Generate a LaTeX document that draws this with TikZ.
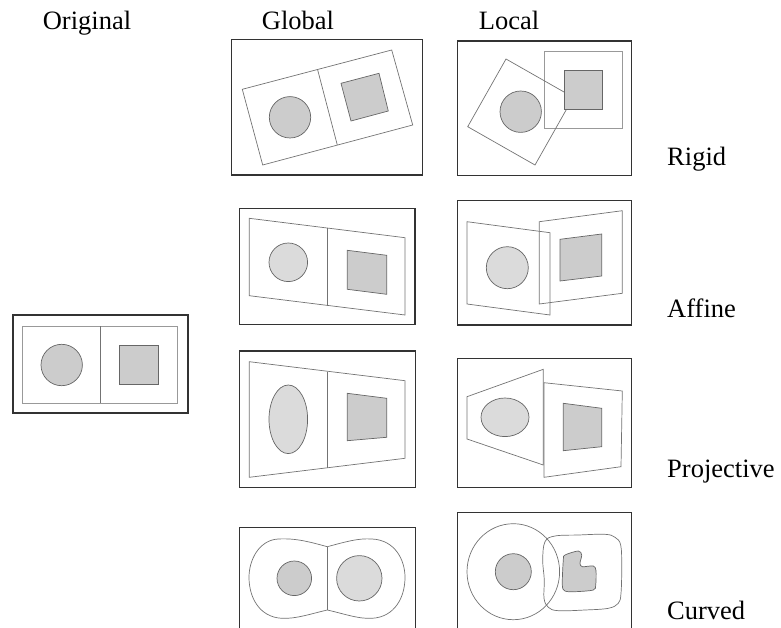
\documentclass[tikz,border=0pt]{standalone}
\usepackage{fontspec}
\setmainfont{Liberation Serif}
\begin{document}
\begin{tikzpicture}[x=1pt,y=-1pt,
  frame/.style={draw=black!80,line width=1.4pt},
  sheet/.style={draw=black!55,line width=0.7pt},
  lightsheet/.style={draw=black!40,line width=0.8pt},
  darkfill/.style={draw=black!60,line width=0.7pt,fill=black!20},
  lightfill/.style={draw=black!60,line width=0.7pt,fill=black!14},
  label/.style={font=\fontsize{26.5}{31}\selectfont,inner sep=0pt,anchor=base}]
\clip (0,0) rectangle (781,628);

% column and row titles
\node[label] (torig) at (87,30) {Original};
\node[label] (tglob) at (298,30) {Global};
\node[label] (tloc) at (509,30) {Local};
\node[label,anchor=base west] (rrigid) at (667,166) {Rigid};
\node[label,anchor=base west] (raffine) at (667,317) {Affine};
\node[label,anchor=base west] (rproj) at (667,477) {Projective};
\node[label,anchor=base west] (rcurved) at (667,619) {Curved};

% original image pair
\draw[frame] (13,315) rectangle (188,413);
\draw[lightsheet] (22.7,326) rectangle (177,403);
\draw[sheet] (100,326) -- (100,403);
\draw[darkfill] (61.7,365) circle[radius=20.7];
\draw[darkfill] (119.3,345) rectangle (158.3,384);

% global rigid
\draw[frame] (231.7,39.3) rectangle (422.3,175);
\draw[sheet] (242.3,89.3) -- (391.7,50) -- (412.7,125) -- (262.7,165) -- cycle;
\draw[sheet] (317.7,70) -- (337.3,145);
\draw[darkfill] (290,117.3) circle[radius=20.7];
\draw[darkfill] (341,83.3) -- (379,73.3) -- (388.3,111) -- (351,121) -- cycle;

% local rigid
\draw[frame] (457.3,41) rectangle (631.7,175.7);
\draw[lightsheet] (544.3,51) rectangle (622.3,128.7);
\draw[sheet] (506,59) -- (573.3,97.3) -- (535,165) -- (467.7,126.7) -- cycle;
\draw[darkfill] (520.7,111.7) circle[radius=20.7];
\draw[darkfill] (564,70) rectangle (602.7,109.3);

% global affine
\draw[frame] (239.3,208.3) rectangle (415,324.3);
\draw[sheet] (249.3,218.3) -- (405,237.7) -- (405,315) -- (249.3,295.7) -- cycle;
\draw[sheet] (327.3,228.3) -- (327.3,305.7);
\draw[lightfill] (288.3,262.3) circle[radius=19.3];
\draw[darkfill] (347.3,250.3) -- (386.7,255.3) -- (386.7,294.3) -- (347.3,289.3) -- cycle;

% local affine
\draw[frame] (457.3,200.7) rectangle (631.7,325);
\draw[sheet] (467,221.7) -- (550,232.7) -- (550,315) -- (467,304) -- cycle;
\draw[sheet] (539.3,221.7) -- (622.3,210.7) -- (622.3,293.3) -- (539.3,304) -- cycle;
\draw[lightfill] (507.3,267.7) circle[radius=21];
\draw[darkfill] (560,239.3) -- (601.7,234) -- (601.7,276) -- (560,281) -- cycle;

% global projective
\draw[frame] (239.3,351) rectangle (415.7,487.3);
\draw[sheet] (249.3,361.7) -- (405,380.7) -- (405,458.3) -- (249.3,477.3) -- cycle;
\draw[sheet] (327.3,371.7) -- (327.3,467.7);
\draw[lightfill] (288.3,419.3) ellipse[x radius=19.3,y radius=34.3];
\draw[darkfill] (347.3,393.3) -- (386.7,398.3) -- (386.7,437.3) -- (347.3,440.7) -- cycle;

% local projective
\draw[frame] (457.3,358.3) rectangle (631.7,487.3);
\draw[sheet] (467,396.7) -- (543.3,369.3) -- (543.3,465) -- (467,439) -- cycle;
\draw[sheet] (544,382.7) -- (622.3,391) -- (621,466.7) -- (544,477.3) -- cycle;
\draw[lightfill] (505,417.3) ellipse[x radius=24,y radius=19.3];
\draw[darkfill] (563.3,403.3) -- (601.7,408.3) -- (601.7,446.7) -- (563.3,450.7) -- cycle;

% global curved: a two-lobed sheet pinched at the seam
\draw[frame] (239.3,527.7) rectangle (415.7,660);
\draw[sheet] (327.3,546.7)
  .. controls (345,542) and (358,538) .. (372,539)
  .. controls (395,540) and (405,560) .. (405,577.3)
  .. controls (405,597) and (395,617) .. (372,618.3)
  .. controls (358,619) and (345,614) .. (327.3,610)
  .. controls (310,614) and (296,619) .. (281.7,618.3)
  .. controls (259,617) and (249,597) .. (249,577.3)
  .. controls (249,560) and (259,540) .. (278.3,539)
  .. controls (296,538) and (310,542) .. (327.3,546.7) -- cycle;
\draw[sheet] (327.3,546.7) -- (327.3,610);
\draw[darkfill] (294.3,578.3) circle[radius=17.3];
\draw[lightfill] (359.3,578.3) circle[radius=22.7];

% local curved
\draw[frame] (457.3,512.7) rectangle (631.7,660);
\draw[sheet] (513.3,571.7) ellipse[x radius=46.3,y radius=48];
\draw[sheet] plot[smooth cycle,tension=0.6] coordinates {
  (545,541.7) (555,536) (578.3,535) (605,534.3) (615,537.3) (620.7,545)
  (621.7,566.7) (621,593.3) (618.3,603.3) (608.3,608.3) (585,610)
  (558.3,610.7) (548.3,607.3) (544,598.3) (544.3,580) (542.7,560)};
\draw[darkfill] (513.3,571.7) circle[radius=18];
\draw[darkfill] plot[smooth cycle,tension=0.5] coordinates {
  (565,555) (578.3,551) (581.7,555) (580,563.3) (582.3,566.7) (593.3,566)
  (596,570.7) (595.7,585) (593.3,590) (575,591.7) (565,591) (562.3,585)
  (563.3,560)};
\end{tikzpicture}
\end{document}
